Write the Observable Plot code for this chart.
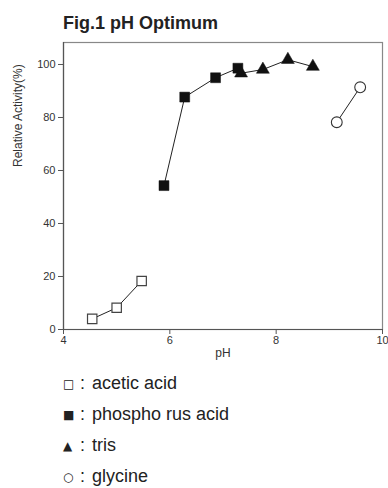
<!DOCTYPE html>
<html>
<head>
<meta charset="utf-8">
<script src="https://cdn.jsdelivr.net/npm/d3@7"></script>
<script src="https://cdn.jsdelivr.net/npm/@observablehq/plot@0.6"></script>
<style>
  body { margin: 0; background: #fff; font-family: "Liberation Sans", Arial, sans-serif; }
  #wrap { position: relative; width: 388px; height: 488px; overflow: hidden; }
  #title { position: absolute; left: 63px; top: 14px; font-size: 18px; line-height: 18px; font-weight: bold; color: #222; white-space: nowrap; }
  #chart { position: absolute; left: 0; top: 36px; }
  #legend { position: absolute; left: 63px; top: 368px; font-size: 18px; color: #222; }
  #legend div { height: 31px; line-height: 31px; white-space: nowrap; }
  #legend .sym { display: inline-block; width: 12px; font-size: 12px; font-family: "DejaVu Sans", sans-serif; vertical-align: 1px; }
  #legend .sep { margin: 0 7px 0 5px; }
</style>
</head>
<body>
<div id="wrap">
  <div id="title">Fig.1 pH Optimum</div>
  <div id="chart"></div>
  <div id="legend"></div>
</div>
<script>
// ---- data ----
const aceticPH = [4.54, 5.0, 5.47];
const aceticAct = [4.0, 8.2, 18.3];
const phosphoPH = [5.89, 6.28, 6.86, 7.28];
const phosphoAct = [54.3, 87.7, 95.0, 98.6];
const trisPH = [7.34, 7.75, 8.22, 8.69];
const trisAct = [96.7, 98.1, 101.8, 99.2];
const glycinePH = [9.14, 9.58];
const glycineAct = [78.2, 91.4];
const xTicks = [4, 6, 8, 10];
const yTicks = [0, 20, 40, 60, 80, 100];
const legendSymbols = ["□", "■", "▲", "○"];
const legendLabels = ["acetic acid", "phospho rus acid", "tris", "glycine"];
const titleText = "Fig.1 pH Optimum";
const xLabel = "pH";
const yLabel = "Relative Activity(%)";

const toRows = (xs, ys) => xs.map((x, i) => ({pH: x, act: ys[i]}));
const acetic = toRows(aceticPH, aceticAct);
const phospho = toRows(phosphoPH, phosphoAct);
const tris = toRows(trisPH, trisAct);
const glycine = toRows(glycinePH, glycineAct);

const plot = Plot.plot({
  width: 388,
  height: 325,
  marginLeft: 63,
  marginRight: 6,
  marginTop: 6,
  marginBottom: 32,
  style: { fontFamily: "'Liberation Sans', Arial, sans-serif", fontSize: "11px", color: "#333", background: "white" },
  x: { domain: [4, 10] },
  y: { domain: [0, 108.3] },
  marks: [
    Plot.frame({ stroke: "#888", strokeWidth: 1.2 }),
    Plot.axisX({ ticks: xTicks, tickSize: 5, tickPadding: 2, label: null, tickFormat: d => String(d), stroke: "#555" }),
    Plot.axisY({ ticks: yTicks, tickSize: 5, tickPadding: 3, label: null, stroke: "#555" }),
    Plot.ruleY([0], { stroke: "#555", strokeWidth: 1.2 }),
    Plot.ruleX([4], { stroke: "#555", strokeWidth: 1.2 }),
    Plot.text([yLabel], { frameAnchor: "left", dx: -45, dy: -19, rotate: -90, fontSize: 12, fill: "#333" }),
    Plot.text([xLabel], { frameAnchor: "bottom", dy: 27, fontSize: 12, fill: "#333" }),
    Plot.line(acetic, { x: "pH", y: "act", stroke: "#222", strokeWidth: 1 }),
    Plot.line(phospho, { x: "pH", y: "act", stroke: "#222", strokeWidth: 1 }),
    Plot.line(tris, { x: "pH", y: "act", stroke: "#222", strokeWidth: 1 }),
    Plot.line(glycine, { x: "pH", y: "act", stroke: "#222", strokeWidth: 1 }),
    Plot.dot(acetic, { x: "pH", y: "act", symbol: "square", r: 5.3, fill: "white", stroke: "#444", strokeWidth: 1.2 }),
    Plot.dot(phospho, { x: "pH", y: "act", symbol: "square", r: 5.6, fill: "#111", stroke: "#111", strokeWidth: 0.5 }),
    Plot.dot(tris, { x: "pH", y: "act", symbol: "triangle", r: 4.8, fill: "#111", stroke: "#111", strokeWidth: 0.5 }),
    Plot.dot(glycine, { x: "pH", y: "act", symbol: "circle", r: 5.4, fill: "white", stroke: "#333", strokeWidth: 1.1 })
  ]
});
document.getElementById("chart").appendChild(plot);
document.getElementById("title").textContent = titleText;

const legend = document.getElementById("legend");
legendLabels.forEach((lab, i) => {
  const row = document.createElement("div");
  const s = document.createElement("span");
  s.className = "sym";
  s.textContent = legendSymbols[i];
  const sep = document.createElement("span");
  sep.className = "sep";
  sep.textContent = ":";
  row.appendChild(s);
  row.appendChild(sep);
  row.appendChild(document.createTextNode(lab));
  legend.appendChild(row);
});
</script>
</body>
</html>
